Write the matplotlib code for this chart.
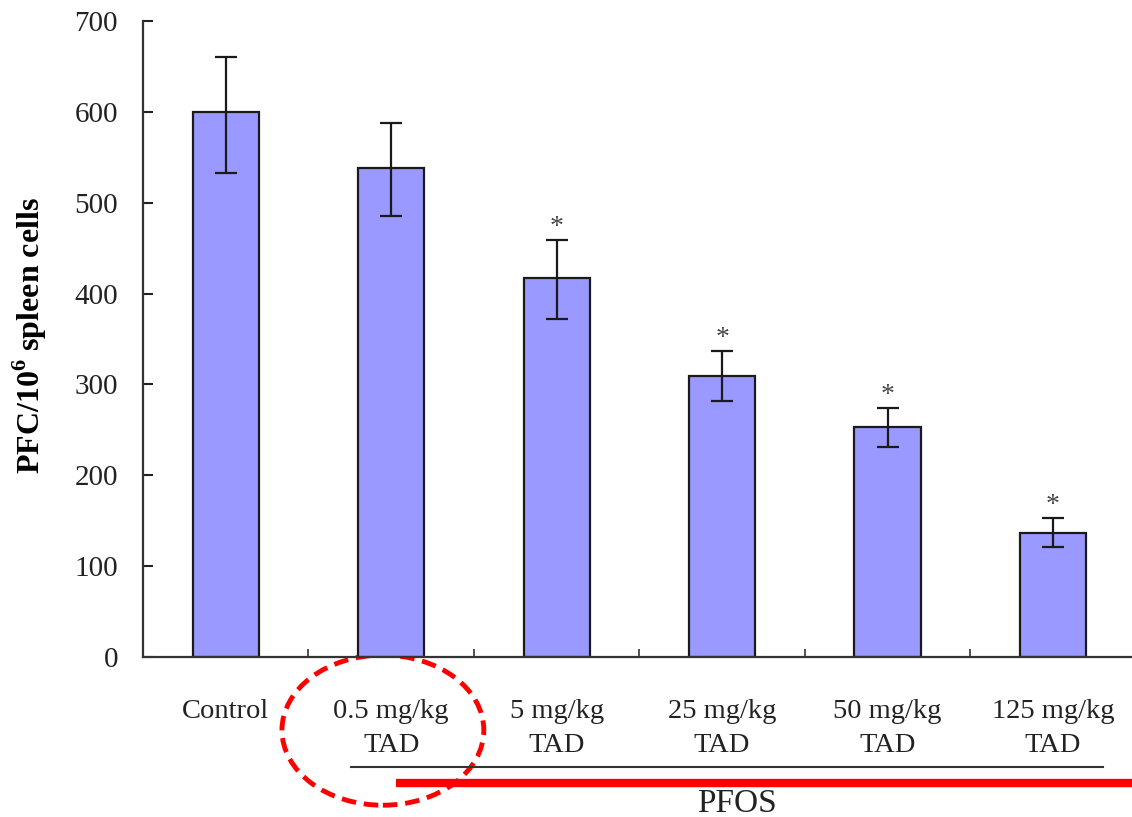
import matplotlib
matplotlib.use("Agg")
import matplotlib.pyplot as plt
import matplotlib.transforms as mtransforms
from matplotlib.patches import Ellipse
import numpy as np

categories = ["Control", "0.5 mg/kg\nTAD", "5 mg/kg\nTAD", "25 mg/kg\nTAD",
              "50 mg/kg\nTAD", "125 mg/kg\nTAD"]
means = [600, 538, 417, 309, 253, 137]
err_upper = [60, 50, 42, 28, 21, 16]
err_lower = [67, 53, 45, 27, 22, 16]
significant = [False, False, True, True, True, True]
yticks = [0, 100, 200, 300, 400, 500, 600, 700]
ylabel = "PFC/10$^\\mathbf{6}$ spleen cells"
group_label = "PFOS"

plt.rcParams['font.family'] = ['Liberation Serif', 'DejaVu Serif']
plt.rcParams['mathtext.fontset'] = 'custom'
plt.rcParams['mathtext.rm'] = 'Liberation Serif'
plt.rcParams['mathtext.bf'] = 'Liberation Serif:bold'

fig = plt.figure(figsize=(11.32, 8.17), dpi=100)
ax = fig.add_axes([0.1263, 0.1958, 0.877, 0.7785])

x = np.arange(len(categories))
ax.bar(x, means, width=0.4, color="#9999FF", edgecolor="#1a1a1a", linewidth=1.6, zorder=2)
ax.errorbar(x, means, yerr=[err_lower, err_upper], fmt="none", ecolor="#1a1a1a",
            elinewidth=1.6, capsize=8, capthick=1.6, zorder=3)

for xi, m, eu, s in zip(x, means, err_upper, significant):
    if s:
        ax.annotate("*", (xi, m + eu), xytext=(0, 0), textcoords="offset points",
                    ha="center", va="bottom", fontsize=20, color="#444444")

ax.set_xlim(-0.5, 5.5)
ax.set_ylim(0, 700)
ax.set_yticks(yticks)
ax.tick_params(axis="y", direction="in", length=7, width=1.5, labelsize=21,
               pad=18, colors="#222222")
ax.set_xticks(x)
ax.set_xticklabels(categories, fontsize=20.5, color="#222222", linespacing=1.5)
ax.tick_params(axis="x", which="major", length=0, pad=30)
ax.set_xticks(np.arange(0.5, 5.0, 1.0), minor=True)
ax.tick_params(axis="x", which="minor", direction="in", length=6, width=1.2, color="#333333")

for sp in ["top", "right"]:
    ax.spines[sp].set_visible(False)
for sp in ["left", "bottom"]:
    ax.spines[sp].set_linewidth(1.6)
    ax.spines[sp].set_color("#333333")

ax.set_ylabel(ylabel, fontsize=23, fontweight="bold")
ax.yaxis.set_label_coords(-0.095, 0.505)

trans = mtransforms.blended_transform_factory(ax.transData, ax.transAxes)
ax.plot([0.76, 5.3], [-0.173, -0.173], transform=trans, color="#333333",
        linewidth=1.5, clip_on=False)
ax.plot([1.03, 5.6], [-0.198, -0.198], transform=trans, color="red",
        linewidth=6, clip_on=False, solid_capstyle="butt")
ax.text(3.09, -0.207, group_label, transform=trans, ha="center", va="top",
        fontsize=24, color="#222222")
ell = Ellipse((0.95, -0.115), 1.22, 0.236, transform=trans, fill=False,
              edgecolor="red", linewidth=3.5, linestyle=(0, (3, 1.6)), clip_on=False)
ax.add_patch(ell)

fig.savefig("out.png", dpi=100)
